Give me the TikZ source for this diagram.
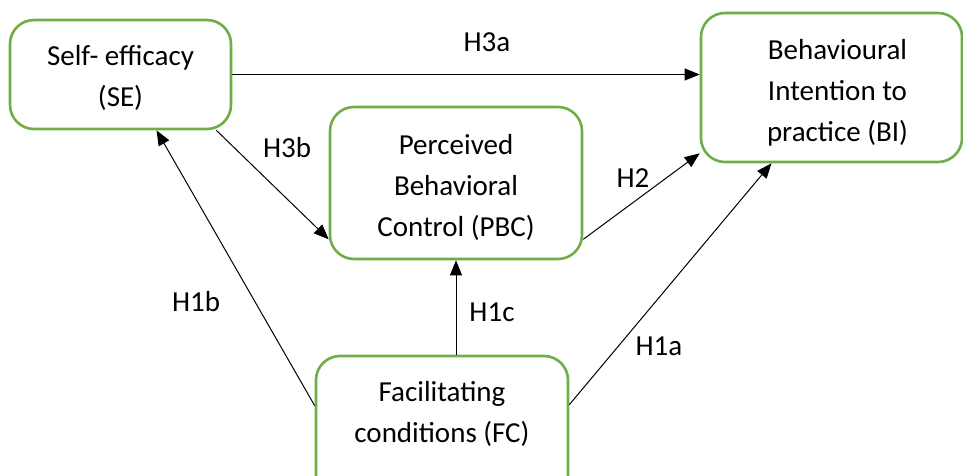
\documentclass[tikz,border=0pt]{standalone}
\usepackage{fontspec}
\setmainfont{Carlito}
\usetikzlibrary{arrows.meta}
\definecolor{boxgreen}{RGB}{112,173,71}
\begin{document}
\begin{tikzpicture}[x=1pt,y=-1pt,
  box/.style={draw=boxgreen, line width=2.6pt, rounded corners=24pt, fill=white, inner sep=0pt},
  txt/.style={align=center, inner sep=0pt, font=\fontsize{29}{41}\selectfont},
  lbl/.style={font=\fontsize{29}{35}\selectfont, inner sep=1pt},
  conn/.style={line width=1pt, -{Triangle[length=15pt,width=12pt]}}]
\useasboundingbox (0,0) rectangle (963,476);
\clip (0,0) rectangle (963,476);
\node[box, minimum width=221pt, minimum height=109pt] (SE) at (120.5,74.5) {};
\node[box, minimum width=261pt, minimum height=149pt] (BI) at (831.5,87.5) {};
\node[box, minimum width=252pt, minimum height=152pt] (PBC) at (456,183) {};
\node[box, minimum width=252pt, minimum height=148pt] (FC) at (442,430) {};

\node[txt] (SEt) at ([yshift=-3pt]SE.center) {Self- efficacy\\(SE)};
\node[txt] (BIt) at ([xshift=6pt,yshift=-5pt]BI.center) {Behavioural\\Intention to\\practice (BI)};
\node[txt] (PBCt) at ([yshift=-4pt]PBC.center) {Perceived\\Behavioral\\Control (PBC)};
\node[txt] (FCt) at ([yshift=16pt]FC.center) {Facilitating\\conditions (FC)};

\draw[conn] (SE.east) -- (SE.east -| BI.west);
\draw[conn] ([xshift=-16pt]SE.south east) -- ([yshift=21pt]PBC.south west);
\draw[conn] ([yshift=21pt]PBC.south east) -- ([yshift=10pt]BI.south west);
\draw[conn] ([yshift=-50pt]FC.north east) -- ([xshift=-60pt]BI.south);
\draw[conn] (PBC.south |- FC.north) -- (PBC.south);
\draw[conn] ([yshift=-51pt]FC.north west) -- ([xshift=36pt]SE.south);

\node[lbl] (l3a) at (487,42) {H3a};
\node[lbl] (l3b) at (287,148) {H3b};
\node[lbl] (l2) at (633,178) {H2};
\node[lbl] (l1a) at (659,346) {H1a};
\node[lbl] (l1c) at (492,312) {H1c};
\node[lbl] (l1b) at (196,302) {H1b};
\end{tikzpicture}
\end{document}
